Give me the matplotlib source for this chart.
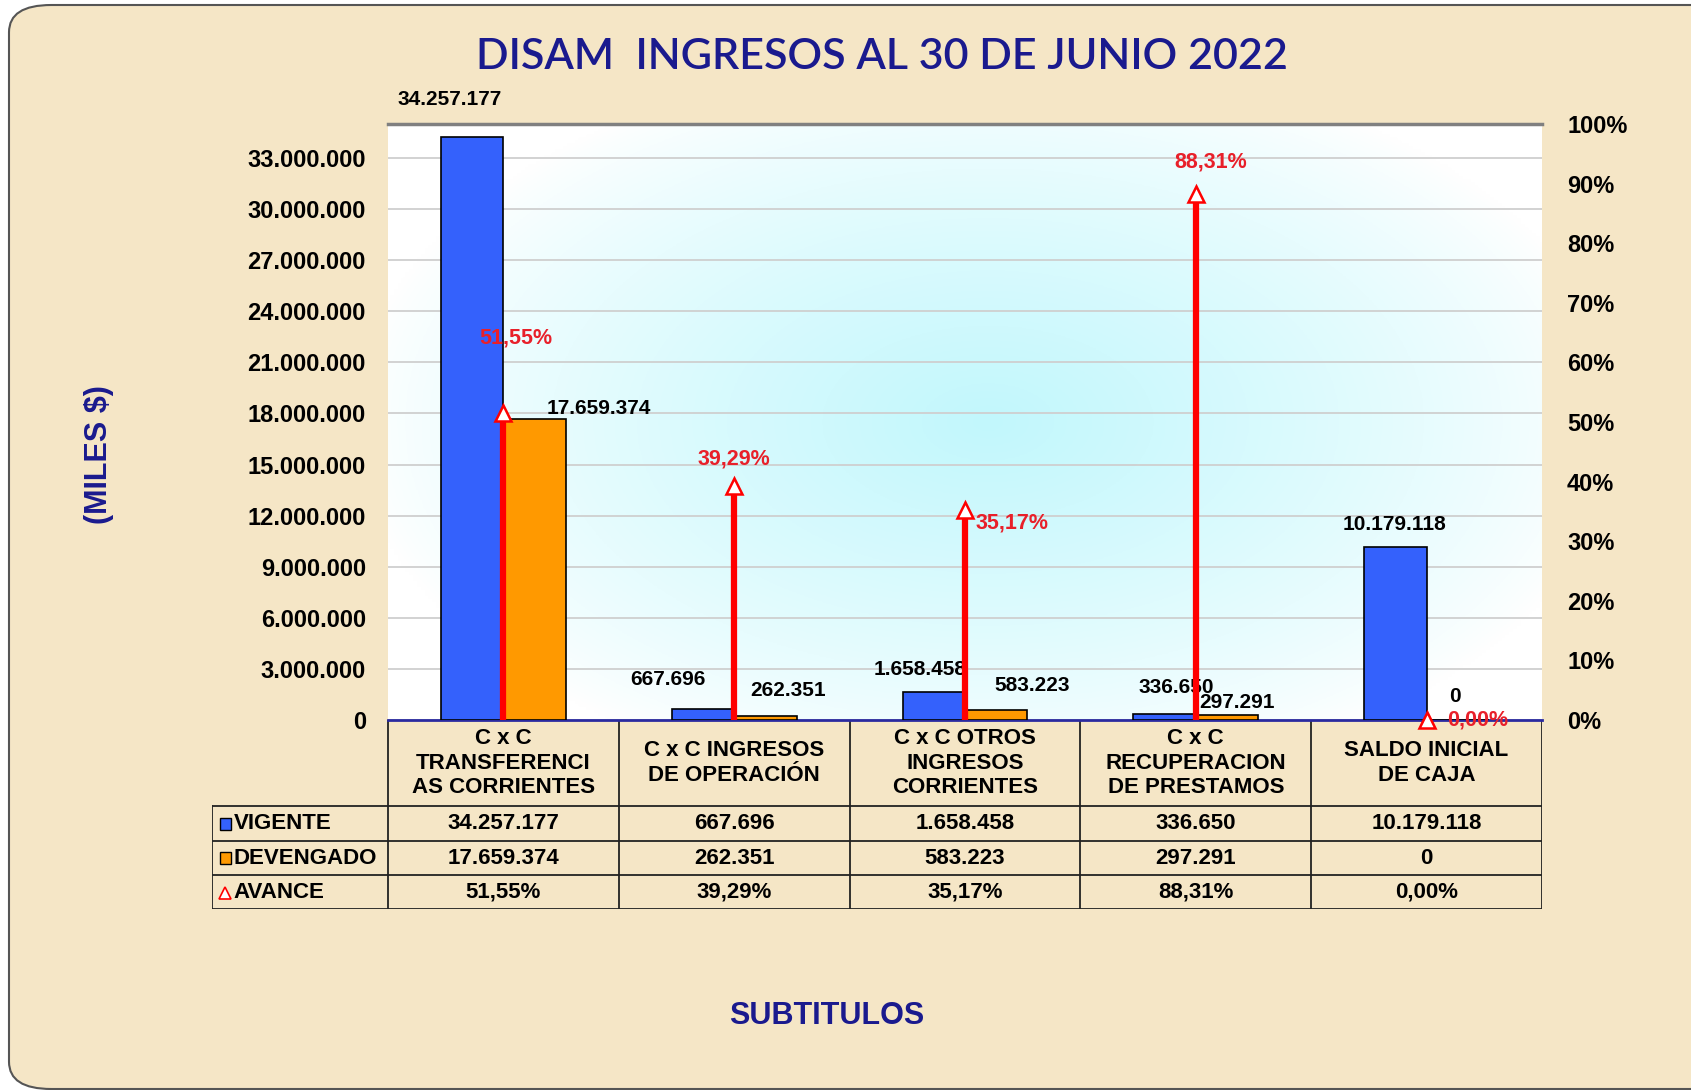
import numpy as np
import matplotlib.pyplot as plt
from matplotlib.patches import FancyBboxPatch, Rectangle

# datos
categorias = ["C x C\nTRANSFERENCI\nAS CORRIENTES", "C x C INGRESOS\nDE OPERACIÓN",
              "C x C OTROS\nINGRESOS\nCORRIENTES", "C x C\nRECUPERACION\nDE PRESTAMOS",
              "SALDO INICIAL\nDE CAJA"]
vigente = [34257177, 667696, 1658458, 336650, 10179118]
devengado = [17659374, 262351, 583223, 297291, 0]
avance = [0.5155, 0.3929, 0.3517, 0.8831, 0.0]
y_ticks = list(range(0, 33000001, 3000000))
pct_ticks = [i / 10 for i in range(11)]

# desplazamientos de etiquetas (puntos)
off_v = [(-16, 27), (-25, 21), (-10, 16), (8, 19), (-1, 16)]
off_d = [(46, 8), (16, 18), (26, 18), (7, 9), (-2, 17)]
off_a = [(9, 54), (0, 19), (34, -9), (11, 23), (37, 0)]

AZUL = '#3461fc'
NARANJA = '#ff9900'
ROJO = '#ff0000'
NAVY = '#1a1a8e'
FONDO = '#f5e6c6'


def miles(v):
    return f"{v:,.0f}".replace(",", ".")


def pct(v):
    return f"{v * 100:.2f}%".replace(".", ",")


plt.rcParams['font.family'] = ['Liberation Sans', 'DejaVu Sans']
plt.rcParams['font.weight'] = 'bold'

W, H = 1691, 1090
fig = plt.figure(figsize=(W / 100, H / 100), dpi=100)
fig.patch.set_facecolor('white')

# marco del fondo
fig.patches.append(FancyBboxPatch((9 / W, 1 / H), 1.2, (H - 6) / H, boxstyle="round,pad=0,rounding_size=0.025",
                                  transform=fig.transFigure, facecolor=FONDO, edgecolor='#555555',
                                  linewidth=1.5, zorder=-10))


def px(x0, y0, x1, y1):
    return [x0 / W, 1 - y1 / H, (x1 - x0) / W, (y1 - y0) / H]


ax = fig.add_axes(px(388, 124, 1542, 720))
ax2 = ax.twinx()
ax.set_zorder(1)
ax2.set_zorder(2)
ax.patch.set_visible(False)
ax2.patch.set_visible(False)

# degradado del area de trazado
gx, gy = np.meshgrid(np.linspace(0, 1, 300), np.linspace(0, 1, 200))
r = np.sqrt(((gx - 0.52) / 0.55) ** 2 + ((gy - 0.5) / 0.62) ** 2)
t = np.clip(1 - r, 0, 1) ** 0.8
img = np.zeros(gx.shape + (3,))
c0 = np.array([1.0, 1.0, 1.0])
c1 = np.array([0.76, 0.97, 0.99])
for k in range(3):
    img[..., k] = c0[k] + (c1[k] - c0[k]) * t
ax.imshow(img, extent=(0, 1, 0, 1), transform=ax.transAxes, aspect='auto', zorder=0, origin='lower')

x = np.arange(len(categorias))
w = 0.27
ax.bar(x - w / 2, vigente, w, color=AZUL, edgecolor='black', linewidth=1.2, zorder=3)
ax.bar(x + w / 2, devengado, w, color=NARANJA, edgecolor='black', linewidth=1.2, zorder=3)

ax.set_xlim(-0.5, len(categorias) - 0.5)
ax.set_ylim(0, 35000000)
ax.set_yticks(y_ticks)
ax.set_yticklabels([miles(v) for v in y_ticks], fontsize=17, fontweight='bold')
ax.tick_params(axis='y', length=0, pad=16)
ax.set_xticks([])
ax.grid(axis='y', color='#cfcfcf', linewidth=1.3, zorder=1)
ax.set_axisbelow(True)
for s in ['left', 'right']:
    ax.spines[s].set_visible(False)
    ax2.spines[s].set_visible(False)
ax.spines['top'].set_color('#808080')
ax.spines['top'].set_linewidth(2.5)
ax.spines['bottom'].set_color('#2a2aa0')
ax.spines['bottom'].set_linewidth(2)
ax2.spines['top'].set_visible(False)
ax2.spines['bottom'].set_visible(False)

ax2.set_ylim(0, 1)
ax2.set_yticks(pct_ticks)
ax2.set_yticklabels([f"{int(round(p * 100))}%" for p in pct_ticks], fontsize=17, fontweight='bold')
ax2.tick_params(axis='y', length=0, pad=18)

ax2.vlines(x, 0, avance, color=ROJO, linewidth=4.5, zorder=4)
ax2.plot(x, avance, linestyle='none', marker='^', markersize=11, markerfacecolor='white',
         markeredgecolor=ROJO, markeredgewidth=1.8, zorder=5, clip_on=False)

for i in range(len(x)):
    ax.annotate(miles(vigente[i]), (x[i] - w / 2, vigente[i]), xytext=off_v[i], textcoords='offset points',
                ha='center', va='center', fontsize=15, fontweight='bold', annotation_clip=False, zorder=6)
    ax.annotate(miles(devengado[i]), (x[i] + w / 2, devengado[i]), xytext=off_d[i], textcoords='offset points',
                ha='center', va='center', fontsize=15, fontweight='bold', annotation_clip=False, zorder=6)
    ax2.annotate(pct(avance[i]), (x[i], avance[i]), xytext=off_a[i], textcoords='offset points',
                 ha='center', va='center', fontsize=15.5, fontweight='bold', color='#e8202a',
                 annotation_clip=False, zorder=6)

# tabla de datos
tx = fig.add_axes(px(212, 720, 1542, 909))
left = -0.5 - 176 / 230.8
tx.set_xlim(left, len(categorias) - 0.5)
tx.set_ylim(909, 720)
tx.axis('off')
filas_y = [720, 806, 841, 875, 909]
lc = '#222222'
lw = 1.3
# lineas horizontales
tx.plot([-0.5, 4.5], [filas_y[0]] * 2, color=lc, lw=lw)
for yy in filas_y[1:]:
    tx.plot([left, 4.5], [yy, yy], color=lc, lw=lw)
# lineas verticales
for xx in np.arange(-0.5, 4.6, 1.0):
    tx.plot([xx, xx], [filas_y[0], filas_y[-1]], color=lc, lw=lw)
tx.plot([left, left], [filas_y[1], filas_y[-1]], color=lc, lw=lw)

for i, c in enumerate(categorias):
    tx.text(x[i], (filas_y[0] + filas_y[1]) / 2, c, ha='center', va='center', fontsize=16,
            fontweight='bold', linespacing=1.2)

filas = [("VIGENTE", [miles(v) for v in vigente]),
         ("DEVENGADO", [miles(v) for v in devengado]),
         ("AVANCE", [pct(v) for v in avance])]
for r_i, (nombre, vals) in enumerate(filas):
    yc = (filas_y[r_i + 1] + filas_y[r_i + 2]) / 2
    tx.text(left + 0.095, yc, nombre, ha='left', va='center', fontsize=16, fontweight='bold')
    for i, v in enumerate(vals):
        tx.text(x[i], yc, v, ha='center', va='center', fontsize=16, fontweight='bold')

# claves de leyenda
kx = left + 0.058
for r_i, col in enumerate([AZUL, NARANJA]):
    yc = (filas_y[r_i + 1] + filas_y[r_i + 2]) / 2
    tx.add_patch(Rectangle((kx - 0.025, yc - 6), 0.05, 12, facecolor=col, edgecolor='black', lw=1))
tx.plot([kx], [(filas_y[3] + filas_y[4]) / 2 + 1], marker='^', markersize=8, markerfacecolor='white',
        markeredgecolor=ROJO, markeredgewidth=1.2, linestyle='none')

fig.text(882 / W, 1 - 57 / H, "DISAM  INGRESOS AL 30 DE JUNIO 2022", ha='center', va='center',
         fontsize=31, color=NAVY, family=['Lato', 'DejaVu Sans'], fontweight='semibold')
fig.text(99 / W, 1 - 455 / H, "(MILES $)", ha='center', va='center', rotation=90,
         fontsize=22, color=NAVY, fontweight='bold')
fig.text(827 / W, 1 - 1016 / H, "SUBTITULOS", ha='center', va='center',
         fontsize=22, color=NAVY, fontweight='bold')

fig.savefig('out.png', dpi=100)
